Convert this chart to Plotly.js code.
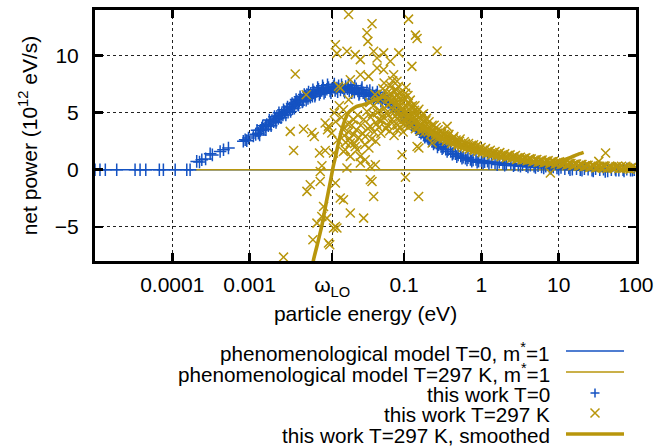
<!DOCTYPE html>
<html>
<head>
<meta charset="utf-8">
<script src="https://cdn.plot.ly/plotly-3.0.1.min.js"></script>
<style>html,body{margin:0;padding:0;background:#fff}#chart{width:657px;height:447px}</style>
</head>
<body>
<div id="chart"></div>
<script>
// ---- data ----
const wLO = 0.0117;
const xTickVals = [1e-4, 1e-3, wLO, 0.1, 1, 10, 100];
const xTickText = ['0.0001', '0.001', 'ω<sub>LO</sub>', '0.1', '1', '10', '100'];
const yTickVals = [-5, 0, 5, 10];

const modelT0X = [1e-5, 100];
const modelT0Y = [0, 0];
const modelT297X = [1.97e-4, 100];
const modelT297Y = [0, 0];

const workT0X = [1.0e-5,1.16e-5,1.36e-5,1.91e-5,3.3e-5,3.83e-5,4.54e-5,6.8e-5,7.67e-5,1.09e-4,1.54e-4,1.70e-4,
2.07e-4,2.25e-4,2.41e-4,2.7e-4,3.09e-4,3.3e-4,4.16e-4,4.6e-4,5.33e-4,8.3e-4,8.77e-4,9.2e-4,9.68e-4,
1.12e-3,1.2e-3,1.3e-3,1.38e-3,1.44e-3,1.52e-3,1.6e-3,1.67e-3,1.75e-3,1.85e-3,1.95e-3,2.05e-3,2.15e-3,2.26e-3,2.35e-3,2.45e-3,2.6e-3,2.7e-3,2.85e-3,
3.04e-3,3.15e-3,3.3e-3,3.45e-3,3.6e-3,3.75e-3,3.9e-3,4.1e-3,4.25e-3,4.4e-3,4.6e-3,4.8e-3,5.0e-3,5.25e-3,5.52e-3,5.7e-3,5.95e-3,6.2e-3,6.5e-3,6.8e-3,7.1e-3,7.44e-3,7.8e-3,8.2e-3,8.6e-3,9.0e-3,9.5e-3,
1.0e-2,1.05e-2,1.1e-2,1.16e-2,1.22e-2,1.28e-2,1.35e-2,1.42e-2,1.5e-2,1.58e-2,1.66e-2,1.75e-2,1.85e-2,1.95e-2,2.05e-2,2.15e-2,2.27e-2,2.4e-2,2.52e-2,2.65e-2,2.8e-2,2.95e-2,
3.1e-2,3.3e-2,3.5e-2,3.7e-2,3.9e-2,4.1e-2,4.35e-2,4.6e-2,4.9e-2,5.2e-2,5.5e-2,5.8e-2,6.2e-2,6.6e-2,7.0e-2,7.5e-2,8.0e-2,8.6e-2,9.2e-2,
0.1,0.107,0.115,0.123,0.132,0.14,0.15,0.16,0.17,0.18,0.19,0.2,0.215,0.23,0.245,0.26,0.28,0.3,0.32,0.345,0.37,0.4,0.43,0.46,0.5,0.54,0.58,0.62,0.67,0.72,0.78,0.85,0.92,
1.0,1.1,1.2,1.35,1.5,1.7,1.9,2.1,2.4,2.7,3.0,3.4,3.8,4.3,4.8,5.4,6.0,6.8,7.6,8.5,9.5,
10.7,12,13.5,15,17,19,21.5,24,27,30,34,38,43,48,54,60,68,76,85,95,
1.25e-3,1.35e-3,1.48e-3,1.63e-3,1.8e-3,1.9e-3,2.1e-3,2.2e-3,2.4e-3,2.55e-3,2.75e-3,2.95e-3,3.1e-3,3.4e-3,3.55e-3,3.8e-3,4.0e-3,4.3e-3,4.5e-3,4.9e-3,5.1e-3,5.4e-3,5.8e-3,6.1e-3,6.6e-3,7.0e-3,7.6e-3,8.0e-3,8.8e-3,9.2e-3,
1.02e-2,1.13e-2,1.25e-2,1.38e-2,1.55e-2,1.7e-2,1.9e-2,2.1e-2,2.3e-2,2.6e-2,2.85e-2,3.2e-2,3.6e-2,4.0e-2,4.5e-2,5.0e-2,5.6e-2,
0.11,0.125,0.145,0.165,0.185,0.21,0.24,0.27,0.31,0.36,0.42,0.48,0.56,0.65,0.75,0.88,1.05,1.25,1.6,2.0,2.6,3.2,4.0,5.0,6.4,8.0,10,14,20,28,40,55,70,90];
const workT0Y = [0,0,0,0,0,0,0,0,0,0,0,0,
0.73,0.68,0.88,0.95,1.4,1.3,1.6,1.75,1.9,2.5,2.63,2.55,2.78,
2.95,3.1,3.2,3.45,3.66,3.55,3.8,3.95,3.85,4.1,4.3,4.2,4.45,4.68,4.5,4.75,4.9,4.8,5.1,
5.26,5.05,5.4,5.55,5.35,5.7,5.85,5.99,5.7,6.05,6.2,5.95,6.3,6.45,6.58,6.25,6.5,6.7,6.45,6.8,6.6,6.87,7.05,6.75,6.95,7.15,6.85,
7.05,7.2,6.9,7.1,7.3,6.95,7.15,7.35,7.0,7.2,6.95,7.3,7.1,6.9,7.2,7.0,6.8,7.1,6.9,6.7,7.0,6.75,
6.6,6.9,6.65,6.5,6.75,6.4,6.55,6.3,6.45,6.15,6.3,6.0,5.9,5.75,5.55,5.5,5.25,5.1,4.95,
4.7,4.55,4.35,4.2,3.95,3.85,3.6,3.5,3.3,3.1,2.95,2.85,2.7,2.55,2.4,2.35,2.2,2.05,1.95,1.8,1.75,1.6,1.45,1.4,1.3,1.2,1.1,1.0,1.05,0.9,0.85,0.9,0.75,
0.8,0.7,0.75,0.65,0.6,0.65,0.55,0.5,0.55,0.45,0.4,0.45,0.35,0.4,0.3,0.35,0.25,0.3,0.2,0.25,0.15,
0.2,0.1,0.15,0.05,0.1,0.0,0.1,0.05,-0.05,0.1,0.0,0.05,-0.1,0.0,0.05,-0.05,0.0,0.05,-0.05,0.0,
3.45,3.05,3.85,3.5,4.35,3.85,4.65,4.15,5.0,4.55,5.25,4.8,5.5,5.1,5.8,5.4,6.15,5.65,6.4,6.0,6.6,6.1,6.8,6.35,7.0,6.45,7.2,6.6,7.35,6.7,
7.45,6.75,7.5,6.85,7.45,6.8,7.45,6.75,7.35,6.6,7.2,6.45,6.95,6.2,6.8,6.0,6.5,
4.3,3.9,3.5,3.2,2.85,2.55,2.25,2.0,1.85,1.6,1.35,1.15,1.0,0.85,0.75,0.65,0.6,0.55,0.45,0.4,0.35,0.3,0.25,0.2,0.15,0.1,0.05,0.0,-0.05,-0.1,-0.15,-0.05,-0.1,-0.05];

const workT297X = [3.9e-3,5.4e-3,3.36e-3,4.99e-3,6.41e-3,6.87e-3,3.71e-3,8.04e-3,9.53e-3,8.63e-3,8.21e-3,9.5e-3,1.02e-2,6.1e-3,5.52e-3,8.2e-3,9.06e-3,7.44e-3,6.6e-3,1.0e-2,1.05e-2,2.75e-3,8.6e-3,1.09e-2,
1.91e-2,3.84e-2,3.3e-2,3.4e-2,1.29e-2,1.35e-2,1.82e-2,2.33e-2,2.71e-2,4.03e-2,4.46e-2,5.43e-2,6.62e-2,8.51e-2,0.114,0.14,0.147,0.267,0.126,
1.42e-2,2.01e-2,2.71e-2,3.47e-2,4.46e-2,5.43e-2,7.31e-2,8.09e-2,1.49e-2,1.91e-2,1.64e-2,1.05e-2,1.16e-2,1.22e-2,1.73e-2,2.33e-2,2.71e-2,3.14e-2,4.24e-2,1.82e-2,9.4e-2,
3.84e-2,4.03e-2,1.49e-2,1.64e-2,2.01e-2,2.99e-2,1.29e-2,1.29e-2,1.35e-2,0.104,3.65e-2,0.154,0.36,0.79,7.8,40.4,33,0.23,0.147,0.155,
1.64e-2,2.21e-2,2.01e-2,2.45e-2,3.14e-2,3.65e-2,4.68e-2,2.01e-2,1.64e-2,2.71e-2,3.65e-2,1.22e-2,
0.0125,0.013,0.0138,0.0145,0.0155,0.0168,0.0175,0.0185,0.019,0.0198,0.021,0.022,0.0228,0.024,0.025,0.026,0.0275,0.029,0.03,0.031,0.033,0.034,0.035,0.037,0.038,
0.04,0.041,0.043,0.045,0.047,0.049,0.051,0.053,0.056,0.058,0.06,0.063,0.066,0.068,0.07,0.073,0.076,0.079,0.082,0.085,0.088,0.091,0.095,0.098,
0.1,0.103,0.106,0.11,0.113,0.117,0.12,0.124,0.128,0.132,0.136,0.14,0.145,0.15,0.155,0.16,0.166,0.172,0.178,0.185,0.19,
0.2,0.21,0.22,0.23,0.24,0.25,0.26,0.27,0.28,0.3,0.31,0.33,0.35,0.37,0.39,0.41,0.43,0.46,0.49,0.52,0.55,0.58,0.62,0.66,0.7,0.74,0.79,0.84,0.9,0.96,
1.02,1.1,1.17,1.25,1.35,1.45,1.55,1.67,1.8,1.95,2.1,2.25,2.45,2.65,2.85,3.1,3.35,3.6,3.9,4.2,4.6,5.0,5.4,5.9,6.4,7.0,7.6,8.3,9.0,9.8,
10.7,11.6,12.6,13.8,15,16.3,17.8,19.4,21,23,25,27.5,30,32.5,35.5,38.5,42,46,50,55,60,65,71,77,84,91,98,
0.036,0.039,0.042,0.044,0.046,0.048,0.05,0.052,0.054,0.055,0.057,0.059,0.061,0.062,0.064,0.065,0.067,0.069,0.071,0.072,0.074,0.075,0.077,0.078,0.08,0.081,0.083,0.084,0.086,0.087,0.089,0.09,0.092,0.093,0.096,0.097,0.099,
0.101,0.104,0.105,0.108,0.109,0.112,0.115,0.116,0.119,0.122,0.126,0.13,0.134,0.138,0.142,0.148,0.152,0.158,0.163,0.169,0.175,0.182,0.188,0.195,0.205,
0.215,0.225,0.235,0.245,0.255,0.265,0.275,0.29,0.305,0.32,0.34,0.36,0.38,0.4,0.42,0.44,0.47,0.5,0.53,0.56,0.6,0.64,0.68,0.72,0.77,0.82,0.87,0.93,0.99,
1.06,1.13,1.21,1.3,1.4,1.5,1.6,1.73,1.87,2.0,2.17,2.35,2.55,2.75,2.95,3.2,3.5,3.75,4.05,4.4,4.8,5.2,5.65,6.1,6.7,7.3,7.9,8.6,9.4,
10.2,11.1,12.1,13.2,14.4,15.6,17,18.6,20,22,24,26,28.7,31.3,34,37,40,44,48,52.5,57.5,62.5,68,74,80,87,94];
const workT297Y = [8.39,6.58,3.36,3.57,3.27,2.92,1.69,1.46,1.69,0.35,-0.15,4.1,3.5,-1.32,-1.9,-1.03,-3.22,-4.68,-6.14,-4.24,-6.43,-7.66,-4.1,-6.58,
13.6,12.8,12.0,11.25,10.96,10.2,10.38,10.09,9.65,10.38,9.8,10.24,9.5,10.24,13.2,11.8,11.5,10.4,9.06,
7.31,7.89,8.33,8.18,8.92,8.77,8.33,7.75,7.17,6.14,5.26,3.8,3.22,1.46,1.75,2.04,1.17,0.88,0.44,0.15,1.32,
-1.03,-2.34,-2.48,-2.63,-3.8,-4.24,-1.17,-4.97,-5.1,-0.66,-0.88,-2.34,3.8,2.19,-0.29,1.46,0.73,2.34,2.04,1.9,
3.51,4.39,2.34,1.75,2.92,3.8,4.39,1.17,1.6,0.59,0.29,-5.1,
5.0,4.2,2.6,5.6,4.6,3.0,2.4,4.0,3.3,2.7,3.9,3.1,2.3,3.5,4.8,2.8,3.9,3.2,4.4,2.2,5.1,3.6,1.9,4.6,2.7,
5.6,3.3,2.5,5.0,3.7,6.2,4.3,7.1,5.4,3.6,6.7,4.8,7.4,5.9,4.1,6.3,5.1,7.0,3.9,6.0,4.6,6.8,5.4,4.0,
6.3,5.0,7.2,4.5,5.8,3.8,6.1,4.9,5.6,4.2,5.2,3.6,4.8,4.0,5.3,3.4,4.5,3.8,4.9,3.3,4.3,
3.6,4.2,3.1,3.9,3.4,2.9,3.7,3.2,2.7,3.4,2.9,3.1,2.5,2.95,2.6,2.3,2.75,2.4,2.1,2.5,2.2,1.95,2.3,2.0,1.8,2.15,1.75,1.95,1.6,1.85,
1.5,1.75,1.45,1.6,1.3,1.5,1.2,1.4,1.15,1.3,1.05,1.25,1.0,1.15,0.9,1.05,0.85,1.0,0.8,0.95,0.7,0.85,0.65,0.8,0.6,0.75,0.55,0.7,0.5,0.65,
0.45,0.6,0.4,0.55,0.35,0.5,0.3,0.45,0.25,0.4,0.2,0.35,0.15,0.3,0.2,0.35,0.1,0.3,0.15,0.25,0.1,0.3,0.15,0.2,0.05,0.25,0.15,
5.9,4.9,6.6,4.0,6.0,5.2,3.2,6.4,4.6,7.6,6.9,5.0,3.9,5.7,6.2,3.4,6.7,4.4,7.8,5.3,3.0,6.9,4.7,5.8,6.5,3.5,5.1,7.3,4.3,6.4,5.6,3.7,6.0,4.9,5.9,3.3,5.2,
4.4,6.7,3.9,5.5,4.7,6.5,4.1,5.3,4.6,5.5,3.9,5.0,4.6,5.6,4.3,5.1,3.7,4.6,4.0,4.8,3.5,4.2,3.8,4.5,3.3,
3.7,3.4,3.3,3.9,3.2,3.0,3.5,3.0,3.2,2.7,3.0,2.7,3.1,2.55,2.4,2.9,2.6,2.3,2.7,2.1,2.45,1.9,2.3,1.95,2.05,1.7,2.1,1.75,1.95,
1.6,1.85,1.5,1.7,1.4,1.6,1.3,1.5,1.25,1.4,1.15,1.3,1.1,1.25,0.95,1.1,0.9,1.05,0.85,0.95,0.75,0.9,0.7,0.85,0.65,0.8,0.6,0.75,0.55,
0.7,0.5,0.6,0.45,0.55,0.4,0.5,0.35,0.45,0.3,0.4,0.25,0.35,0.2,0.3,0.15,0.3,0.2,0.25,0.1,0.3,0.2,0.15,0.3,0.1,0.2,0.1];

const smoothX = [6.3e-3,6.67e-3,7.5e-3,8.57e-3,0.0098,0.011,0.0121,0.0131,0.0141,0.0156,0.0172,0.0188,0.0209,0.0243,0.0296,0.0342,0.0424,0.054,0.068,0.085,0.1,0.13,0.17,0.22,0.3,0.4,0.55,0.75,1,1.4,2,3,4.5,6.5,8.5,10,12,14,17,21];
const smoothY = [-9.2,-8.0,-6.6,-4.97,-2.9,-1.17,0.29,1.3,2.34,3.5,4.39,4.95,5.26,5.55,5.7,5.85,6.14,6.4,6.1,5.6,5.1,4.4,3.8,3.3,2.75,2.35,1.95,1.65,1.45,1.2,1.0,0.8,0.65,0.6,0.6,0.73,0.9,1.05,1.3,1.52];

const legendLabels = ['phenomenological model T=0, m<sup>*</sup>=1',
  'phenomenological model T=297 K, m<sup>*</sup>=1',
  'this work T=0', 'this work T=297 K', 'this work T=297 K, smoothed'];

// ---- style ----
const BLUE = '#1452c2';
const GOLD = '#b8960c';
const FONT = 'Liberation Sans, Arial, Helvetica, sans-serif';

const traces = [
  {x: modelT0X, y: modelT0Y, mode: 'lines', line: {color: BLUE, width: 1.4}, hoverinfo: 'skip'},
  {x: modelT297X, y: modelT297Y, mode: 'lines', line: {color: GOLD, width: 1.4}, hoverinfo: 'skip'},
  {x: workT0X, y: workT0Y, mode: 'markers', marker: {symbol: 'cross-thin-open', size: 9, color: BLUE, line: {color: BLUE, width: 1.5}}},
  {x: workT297X, y: workT297Y, mode: 'markers', marker: {symbol: 'x-thin-open', size: 9, color: GOLD, line: {color: GOLD, width: 1.5}}},
  {x: smoothX, y: smoothY, mode: 'lines', line: {color: GOLD, width: 3.6, shape: 'spline', smoothing: 0.6}}
];

// legend (text right-aligned, sample on its right)
const W = 541, H = 251;
const rowsPy = [351, 372, 393, 413, 434];
const toPY = py => (261 - py) / H;
const textX = (552 - 95) / W;
const s0 = (566 - 95) / W, s1 = (624 - 95) / W, sc = (595 - 95) / W;
const dx = 4.5 / W, dy = 4.5 / H;
const annotations = legendLabels.map((t, i) => ({
  text: t, xref: 'paper', yref: 'paper', x: textX, y: toPY(rowsPy[i] + 1),
  xanchor: 'right', yanchor: 'middle', showarrow: false, font: {family: FONT, size: 20.7, color: '#000'}
}));
const shapes = [
  {type: 'line', xref: 'paper', yref: 'paper', x0: s0, x1: s1, y0: toPY(rowsPy[0]), y1: toPY(rowsPy[0]), line: {color: BLUE, width: 1.4}},
  {type: 'line', xref: 'paper', yref: 'paper', x0: s0, x1: s1, y0: toPY(rowsPy[1]), y1: toPY(rowsPy[1]), line: {color: GOLD, width: 1.4}},
  {type: 'path', xref: 'paper', yref: 'paper', line: {color: BLUE, width: 1.5},
   path: `M ${sc-dx},${toPY(rowsPy[2])} L ${sc+dx},${toPY(rowsPy[2])} M ${sc},${toPY(rowsPy[2])-dy} L ${sc},${toPY(rowsPy[2])+dy}`},
  {type: 'path', xref: 'paper', yref: 'paper', line: {color: GOLD, width: 1.5},
   path: `M ${sc-dx},${toPY(rowsPy[3])-dy} L ${sc+dx},${toPY(rowsPy[3])+dy} M ${sc-dx},${toPY(rowsPy[3])+dy} L ${sc+dx},${toPY(rowsPy[3])-dy}`},
  {type: 'line', xref: 'paper', yref: 'paper', x0: s0, x1: s1, y0: toPY(rowsPy[4]), y1: toPY(rowsPy[4]), line: {color: GOLD, width: 3.6}}
];

const axisCommon = {
  showline: true, linecolor: '#000', linewidth: 3, mirror: 'ticks',
  ticks: 'inside', ticklen: 8, tickwidth: 2.5, tickcolor: '#000',
  showgrid: true, gridcolor: '#222', griddash: 'dot', gridwidth: 1,
  zeroline: false, tickfont: {family: FONT, size: 21, color: '#000'}
};

const layout = {
  width: 657, height: 447,
  margin: {l: 95, r: 21, t: 10, b: 186},
  paper_bgcolor: '#fff', plot_bgcolor: '#fff',
  showlegend: false,
  font: {family: FONT, color: '#000'},
  xaxis: Object.assign({}, axisCommon, {
    type: 'log', range: [-5, 2], tickmode: 'array', tickvals: xTickVals, ticktext: xTickText,
    ticklabelstandoff: 3,
    title: {text: 'particle energy (eV)', font: {family: FONT, size: 21, color: '#000'}, standoff: 8}
  }),
  yaxis: Object.assign({}, axisCommon, {
    range: [-8, 14], tickmode: 'array', tickvals: yTickVals,
    ticklabelstandoff: 9,
    title: {text: 'net power (10<sup>12</sup> eV/s)', font: {family: FONT, size: 21, color: '#000'}, standoff: 12}
  }),
  annotations: annotations,
  shapes: shapes
};

Plotly.newPlot('chart', traces, layout, {displayModeBar: false, staticPlot: true});
</script>
</body>
</html>
